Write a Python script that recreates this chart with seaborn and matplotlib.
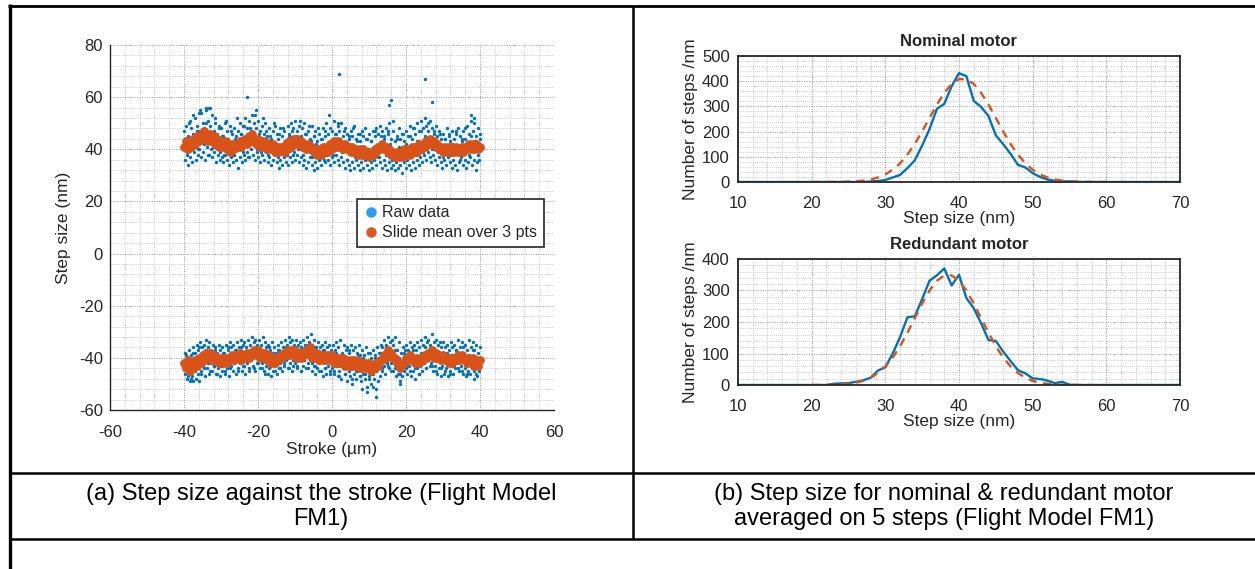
import numpy as np
import pandas as pd
import matplotlib
matplotlib.use("Agg")
import matplotlib.pyplot as plt
import seaborn as sns
from matplotlib.lines import Line2D
from matplotlib.ticker import MultipleLocator

# ---------------- Data: (a) step size vs stroke ----------------
# measurement positions (um) of the three raw runs and of the slide mean
stroke_a = np.linspace(-40.0, 40.0, 161)
stroke_b = np.linspace(-39.8, 39.8, 161)
stroke_c = np.linspace(-39.6, 40.0, 161)

mean_top = [41,43,40,43,41,44,42,45,43,46,44,47,45,43,46,43,45,42,44,41,
            43,41,43,40,42,39,42,40,42,41,43,41,43,44,42,45,43,46,44,42,
            44,41,43,41,43,40,42,40,42,39,41,39,41,40,39,42,40,43,41,44,
            42,44,42,43,41,42,40,42,40,41,39,40,38,40,38,41,39,41,39,42,
            40,43,41,43,41,42,40,42,40,41,39,41,39,40,38,40,38,40,38,39,
            37,39,38,40,39,41,40,42,40,41,39,40,38,39,37,39,37,39,37,40,
            38,40,38,41,39,41,39,42,40,42,41,43,42,44,42,43,41,42,40,41,
            39,41,39,41,39,41,39,41,39,40,41,39,41,40,42,40,42,40,42,40,
            41]
mean_bot = [-42,-44,-41,-45,-42,-44,-41,-43,-40,-42,-39,-41,-38,-40,-38,-41,-39,-41,-40,-42,
            -40,-42,-40,-42,-40,-41,-39,-41,-39,-40,-38,-41,-39,-40,-38,-40,-38,-39,-37,-39,
            -37,-40,-38,-40,-38,-41,-39,-42,-40,-42,-40,-41,-39,-40,-38,-39,-37,-39,-37,-39,
            -37,-40,-38,-40,-38,-39,-37,-38,-36,-40,-38,-40,-38,-41,-39,-41,-39,-41,-39,-41,
            -39,-42,-40,-42,-40,-42,-40,-43,-41,-43,-41,-43,-41,-43,-41,-44,-42,-44,-42,-44,
            -42,-45,-43,-44,-42,-43,-41,-41,-39,-40,-37,-39,-38,-40,-40,-42,-42,-44,-42,-42,
            -40,-41,-39,-41,-40,-42,-40,-42,-40,-41,-39,-40,-38,-39,-37,-40,-38,-40,-39,-41,
            -39,-41,-40,-42,-40,-42,-40,-41,-39,-41,-39,-40,-40,-42,-40,-42,-40,-43,-41,-43,
            -41]

raw_top_a = [47,49,45,51,48,46,52,49,47,54,50,48,55,51,49,53,47,50,46,49,
             48,45,50,47,44,49,46,48,45,47,50,46,49,52,48,51,47,53,50,48,
             51,47,49,46,50,45,48,44,47,49,46,44,48,45,47,43,49,46,50,48,
             51,47,49,45,48,50,46,47,44,49,45,47,43,46,44,48,45,50,46,48,
             47,51,46,49,47,50,45,48,46,44,47,45,49,44,46,43,47,45,48,44,
             46,43,47,45,48,46,49,47,45,48,46,50,44,47,43,45,48,44,46,43,
             47,45,49,44,48,46,50,47,51,48,52,49,47,51,48,46,49,45,47,44,
             46,44,48,45,43,47,44,46,48,45,43,47,44,49,46,51,47,50,45,48,
             46]
raw_top_b = [36,38,34,37,35,39,36,38,40,37,39,36,41,38,40,37,39,35,38,36,
             37,35,38,36,34,37,35,38,36,33,37,35,38,36,39,37,40,38,36,39,
             37,35,38,36,39,35,37,34,36,38,35,33,36,34,37,35,34,37,35,38,
             36,38,35,37,34,36,33,35,37,34,32,35,33,36,34,37,35,38,36,34,
             37,35,38,36,34,37,35,33,36,34,32,35,33,36,34,32,35,33,36,34,
             32,35,33,36,34,37,35,33,36,34,32,35,33,34,32,35,33,34,31,35,
             33,36,34,32,35,33,36,34,37,35,38,36,39,37,35,38,36,34,37,35,
             33,36,34,37,35,33,36,34,32,35,37,34,36,33,35,37,34,36,32,35,
             36]
raw_top_c = [44,39,50,43,53,41,47,40,55,45,42,50,38,56,44,41,52,43,48,39,
             45,38,51,43,40,47,38,44,52,41,46,39,49,43,37,48,42,45,53,40,
             46,39,52,43,47,38,45,41,50,42,37,46,40,48,43,38,45,41,47,39,
             45,40,51,44,38,46,41,49,43,37,45,42,48,39,44,36,47,41,53,43,
             38,46,41,50,44,39,47,42,36,45,40,48,37,43,39,46,41,37,44,40,
             36,43,39,47,41,37,45,40,44,38,47,42,36,51,39,44,41,37,46,39,
             42,37,45,40,48,38,43,41,47,39,45,42,50,44,40,47,43,39,46,41,
             37,44,40,46,38,42,39,47,41,36,44,39,48,42,38,45,40,52,43,38,
             44]
raw_bot_a = [-46,-48,-45,-49,-47,-44,-48,-46,-49,-45,-43,-47,-44,-46,-42,-45,-43,-46,-44,-47,
             -45,-43,-46,-44,-47,-43,-45,-42,-46,-44,-42,-45,-43,-46,-42,-44,-41,-43,-45,-42,
             -41,-44,-42,-45,-43,-46,-44,-47,-45,-43,-46,-44,-42,-45,-43,-41,-44,-42,-45,-43,
             -42,-44,-41,-45,-43,-41,-44,-42,-40,-45,-43,-46,-44,-42,-45,-47,-44,-46,-43,-45,
             -44,-46,-43,-47,-45,-48,-44,-46,-49,-45,-47,-50,-46,-48,-45,-47,-49,-46,-48,-51,
             -47,-50,-46,-48,-52,-49,-47,-45,-43,-46,-42,-44,-42,-45,-44,-47,-46,-49,-47,-45,
             -44,-46,-43,-47,-45,-48,-44,-46,-43,-45,-42,-44,-41,-43,-42,-45,-43,-46,-44,-47,
             -43,-46,-44,-47,-45,-43,-46,-44,-42,-45,-43,-46,-44,-47,-45,-46,-44,-48,-46,-47,
             -45]
raw_bot_b = [-38,-40,-37,-39,-36,-38,-35,-37,-34,-36,-35,-33,-36,-34,-37,-35,-36,-38,-35,-37,
             -36,-38,-35,-37,-34,-36,-35,-37,-34,-36,-33,-35,-34,-36,-33,-35,-32,-34,-33,-35,
             -33,-35,-32,-34,-36,-35,-37,-34,-36,-38,-35,-37,-34,-36,-33,-35,-32,-34,-33,-35,
             -33,-35,-34,-36,-33,-35,-32,-34,-31,-35,-33,-36,-34,-36,-35,-37,-34,-36,-35,-37,
             -35,-37,-34,-36,-33,-38,-35,-37,-36,-38,-35,-37,-36,-38,-35,-39,-37,-39,-36,-38,
             -38,-40,-37,-39,-36,-38,-35,-36,-33,-35,-32,-34,-33,-35,-32,-37,-34,-38,-36,-37,
             -35,-37,-34,-36,-35,-37,-34,-36,-33,-35,-32,-34,-33,-35,-31,-34,-33,-35,-34,-36,
             -34,-36,-35,-37,-34,-36,-35,-37,-33,-36,-34,-36,-35,-37,-33,-36,-34,-37,-35,-38,
             -36]
raw_bot_c = [-44,-39,-47,-41,-48,-38,-45,-42,-36,-46,-40,-44,-37,-42,-45,-39,-43,-37,-46,-40,
             -43,-38,-45,-40,-36,-44,-39,-42,-37,-45,-40,-36,-43,-38,-41,-45,-37,-40,-44,-36,
             -42,-37,-44,-39,-46,-40,-36,-43,-38,-45,-41,-37,-44,-39,-42,-36,-40,-44,-38,-41,
             -36,-43,-39,-45,-37,-41,-35,-44,-38,-42,-36,-43,-39,-45,-40,-37,-44,-41,-38,-46,
             -40,-45,-38,-43,-47,-41,-39,-46,-42,-37,-44,-48,-41,-45,-39,-47,-43,-40,-46,-42,
             -48,-43,-46,-40,-45,-42,-38,-44,-40,-36,-43,-39,-45,-41,-37,-44,-40,-46,-42,-38,
             -43,-39,-45,-41,-37,-44,-40,-46,-38,-42,-36,-44,-40,-37,-43,-39,-45,-41,-38,-44,
             -40,-45,-38,-42,-46,-39,-43,-37,-44,-40,-45,-38,-42,-46,-39,-43,-37,-45,-41,-44,
             -42]
outlier_x = [-34.0, -33.0, -23.0, -20.5, 2.0, 15.5, 16.0, 25.0, 27.0, 37.5, -36.0,
             8.0, 11.0, 12.0, 18.5, -37.5, 9.5]
outlier_y = [56, 56, 60, 55, 69, 57, 59, 67, 58, 53, 54,
             -52, -51, -55, -50, -49, -53]

# ---------------- Data: (b) step-size histograms ----------------
step_nm = list(range(10, 71))
nominal_counts = [0]*18 + [2, 4, 8, 18, 28, 55, 86, 145, 210, 290, 310, 380, 432, 420,
                           322, 298, 262, 185, 150, 112, 68, 58, 35, 20, 10, 5, 3, 2, 1] + [0]*14
nominal_fit_x = list(range(20, 61))
nominal_fit = [0, 0, 0, 0.1, 0.4, 1.4, 3, 5.5, 10, 18, 30, 49, 74, 109, 151, 201, 254, 307,
               354, 389, 408, 408, 389, 354, 307, 254, 201, 151, 109, 74, 49, 30, 18, 10,
               5.5, 3, 1.4, 0.6, 0.3, 0.1, 0]
redundant_counts = [0]*13 + [4, 5, 6, 10, 15, 23, 46, 56, 100, 152, 215, 218, 273, 331, 348,
                             370, 316, 350, 276, 244, 196, 143, 140, 106, 76, 47, 37, 21, 19,
                             14, 6, 10, 1] + [0]*15
redundant_fit_x = list(range(20, 59))
redundant_fit = [0.1, 0.2, 0.4, 1, 2, 3.9, 7.4, 13, 23, 38, 59, 87, 123, 166, 212, 259, 300,
                 331, 348, 348, 331, 300, 259, 212, 166, 123, 87, 59, 38, 23, 13, 7.4, 3.9,
                 2, 0.9, 0.4, 0.2, 0.1, 0]

captions_a = ["(a) Step size against the stroke (Flight Model", "FM1)"]
captions_b = ["(b) Step size for nominal & redundant motor",
              "averaged on 5 steps (Flight Model FM1)"]

# ---------------- Styling ----------------
sns.set_style("white")
plt.rcParams['font.family'] = ['Liberation Sans', 'DejaVu Sans']
plt.rcParams['axes.unicode_minus'] = False

W, H = 1255, 569
fig = plt.figure(figsize=(W / 100, H / 100), dpi=100)
fig.patch.set_facecolor('white')


def fx(px):
    return px / W


def fy(py):
    return 1 - py / H


BLUE = '#0072BD'
ORANGE = '#D95319'
AXC = '#262626'


def style_axes(ax, xmaj, xmin, ymaj, ymin, xpad, ypad):
    ax.xaxis.set_major_locator(MultipleLocator(xmaj))
    ax.xaxis.set_minor_locator(MultipleLocator(xmin))
    ax.yaxis.set_major_locator(MultipleLocator(ymaj))
    ax.yaxis.set_minor_locator(MultipleLocator(ymin))
    ax.grid(True, which='major', color='#999999', linestyle=(0, (1, 1.5)), linewidth=0.7)
    ax.grid(True, which='minor', color='#bdbdbd', linestyle=(0, (1, 1.5)), linewidth=0.6)
    ax.tick_params(which='major', direction='in', length=4, width=0.8, colors=AXC,
                   labelsize=12)
    ax.tick_params(axis='x', which='major', pad=xpad)
    ax.tick_params(axis='y', which='major', pad=ypad)
    ax.tick_params(which='minor', length=0)
    ax.set_axisbelow(True)
    for sp in ax.spines.values():
        sp.set_color(AXC)
        sp.set_linewidth(1.0)


# ---------------- (a) scatter ----------------
ax1 = fig.add_axes([fx(110), fy(410), (554 - 110) / W, (410 - 45) / H])
raw_df = pd.DataFrame({
    'stroke': np.concatenate([stroke_a, stroke_b, stroke_c,
                              stroke_b, stroke_c, stroke_a, np.array(outlier_x)]),
    'step': np.concatenate([raw_top_a, raw_top_b, raw_top_c,
                            raw_bot_a, raw_bot_b, raw_bot_c, outlier_y]),
})
mean_df = pd.DataFrame({
    'stroke': np.concatenate([stroke_a, stroke_a]),
    'step': np.concatenate([mean_top, mean_bot]),
})
sns.scatterplot(data=raw_df, x='stroke', y='step', ax=ax1, color=BLUE, s=6,
                linewidth=0, legend=False)
sns.scatterplot(data=mean_df, x='stroke', y='step', ax=ax1, color=ORANGE, s=40,
                linewidth=0, legend=False)
ax1.set_xlim(-60, 60)
ax1.set_ylim(-60, 80)
style_axes(ax1, 20, 4, 20, 4, xpad=11, ypad=5)
ax1.spines['top'].set_visible(False)
ax1.spines['right'].set_visible(False)
ax1.set_xlabel('Stroke (µm)', fontsize=12.5, color=AXC, labelpad=1)
ax1.set_ylabel('Step size (nm)', fontsize=12.5, color=AXC, labelpad=6)

handles = [Line2D([], [], marker='o', ls='', color='#2a9df0', markersize=6.5),
           Line2D([], [], marker='o', ls='', color='#E0561E', markersize=6.5)]
leg = ax1.legend(handles, ['Raw data', 'Slide mean over 3 pts'], loc='upper left',
                 bbox_to_anchor=(0.556, 0.578), frameon=True, fancybox=False,
                 edgecolor=AXC, fontsize=11.5, handletextpad=0.2, borderpad=0.4,
                 labelspacing=0.3, handlelength=1.0, borderaxespad=0, framealpha=1)
leg.get_frame().set_linewidth(1.2)

# ---------------- (b) histograms ----------------
ax2 = fig.add_axes([fx(738), fy(182), (1180 - 738) / W, 126 / H])
ax3 = fig.add_axes([fx(738), fy(385), (1180 - 738) / W, 126 / H])

for ax, counts, fx_, fit, ymax, title in [
        (ax2, nominal_counts, nominal_fit_x, nominal_fit, 500, 'Nominal motor'),
        (ax3, redundant_counts, redundant_fit_x, redundant_fit, 400, 'Redundant motor')]:
    sns.lineplot(x=step_nm, y=counts, ax=ax, color=BLUE, linewidth=1.7)
    sns.lineplot(x=fx_, y=fit, ax=ax, color=ORANGE, linewidth=1.7, linestyle='--')
    ax.lines[-1].set_dashes((3.5, 2.8))
    ax.set_xlim(10, 70)
    ax.set_ylim(0, ymax)
    style_axes(ax, 10, 2, 100, 20, xpad=10, ypad=6)
    for sp in ax.spines.values():
        sp.set_linewidth(1.3)
    ax.set_title(title, fontsize=12, fontweight='bold', pad=7)
    ax.set_xlabel('Step size (nm)', fontsize=12.5, color=AXC, labelpad=0)
    ax.set_ylabel('Number of steps /nm', fontsize=12.5, color=AXC, labelpad=3)

# ---------------- table frame and captions ----------------
lines = [
    ([8, 1255], [6, 6], 2.0),
    ([9.5, 9.5], [4, 569], 2.4),
    ([633, 633], [6, 539], 1.8),
    ([9, 1255], [473, 473], 1.8),
    ([9, 1255], [539, 539], 1.8),
]
for xs, ys, lw in lines:
    fig.add_artist(Line2D([fx(v) for v in xs], [fy(v) for v in ys], color='black',
                          linewidth=lw, solid_capstyle='butt'))

for i, t in enumerate(captions_a):
    fig.text(fx(321), fy(494 + 25 * i), t, ha='center', va='center', fontsize=17,
             color='black')
for i, t in enumerate(captions_b):
    fig.text(fx(944), fy(494 + 25 * i), t, ha='center', va='center', fontsize=17,
             color='black')

fig.savefig('out.png', dpi=100)
